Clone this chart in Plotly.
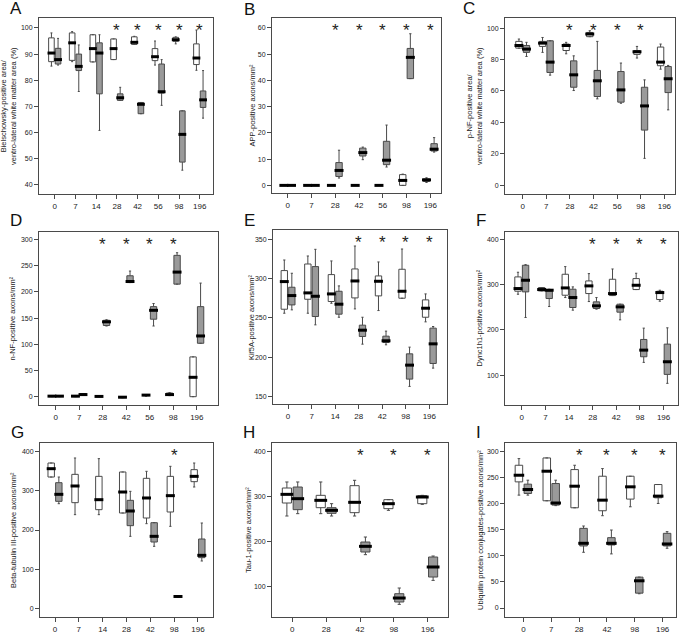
import plotly.graph_objects as go

W, H = 683, 637

# ---------------- data (lower whisker, Q1, median, Q3, upper whisker) ----------------
A_days = ["0", "7", "14", "28", "42", "56", "98", "196"]
A_ctrl = [(85.4, 87.1, 90.4, 96.2, 98.1), (87.1, 87.6, 94.3, 98.1, 98.6), (87.0, 87.0, 92.1, 97.4, 97.4),
          (87.9, 87.9, 92.1, 95.8, 95.8), (93.7, 93.7, 94.5, 96.6, 96.8), (85.8, 87.5, 89.0, 92.1, 95.0),
          (93.9, 94.9, 95.5, 96.4, 96.6), (83.8, 86.0, 88.5, 93.9, 99.2)]
A_trt = [(85.8, 86.2, 87.9, 92.2, 96.0), (75.7, 83.7, 85.3, 90.0, 93.5), (60.8, 74.8, 90.4, 94.3, 97.4),
         (72.3, 72.3, 73.3, 74.8, 77.3), (67.2, 67.2, 70.8, 71.5, 71.5), (70.4, 75.1, 75.6, 86.2, 87.9),
         (45.6, 48.7, 59.3, 68.3, 68.3), (65.5, 69.6, 72.5, 75.9, 83.7)]
A_star = ["28", "42", "56", "98", "196"]

B_days = ["0", "7", "28", "42", "56", "98", "196"]
B_ctrl = [(0, 0, 0, 0, 0), (0, 0, 0, 0, 0), (0, 0, 0, 0, 0), (0, 0, 0, 0, 0), (0, 0, 0, 0, 0),
          (0, 0, 1.9, 4.1, 4.3), (1.1, 1.5, 2.1, 2.5, 2.9)]
B_trt = [(0, 0, 0, 0, 0), (0, 0, 0, 0, 0), (2.8, 3.4, 5.7, 8.7, 13.4), (9.8, 11.2, 12.5, 14.2, 14.6),
         (7.0, 7.9, 9.6, 16.8, 23.0), (40.7, 40.7, 48.8, 52.2, 57.8), (12.7, 13.1, 13.8, 15.9, 18.2)]
B_star = ["28", "42", "56", "98", "196"]

C_days = ["0", "7", "28", "42", "56", "98", "196"]
C_ctrl = [(87.2, 87.2, 88.9, 91.5, 93.0), (84.5, 88.3, 90.4, 91.5, 94.0), (83.6, 85.7, 88.9, 89.8, 90.9),
          (94.5, 94.5, 96.2, 97.2, 98.3), None, (80.9, 83.2, 84.9, 85.7, 88.3), (73.8, 76.0, 78.3, 87.9, 89.8)]
C_trt = [(81.9, 84.5, 86.6, 88.9, 90.9), (70.0, 71.7, 78.3, 91.9, 91.9), (60.2, 62.3, 70.2, 79.1, 82.3),
         (54.9, 56.4, 66.4, 73.0, 91.5), (52.1, 52.8, 60.6, 72.3, 77.7), (17.0, 35.0, 50.4, 62.3, 67.0),
         (47.9, 58.9, 67.7, 75.5, 76.2)]
C_star = ["28", "42", "56", "98"]

D_days = ["0", "7", "28", "42", "56", "98", "196"]
D_ctrl = [(0, 0, 1, 2, 2), (0, 0, 1, 2, 2), (0, 0, 0.5, 1, 1), (-2, -2, -1, 0, 0), (1, 2, 3, 4, 4),
          (2, 3, 4, 7, 8), (0, 0, 37, 76, 76)]
D_trt = [(0, 0, 1, 2, 2), (3, 3, 4, 6, 6), (135, 136, 143, 146, 147), (218, 218, 220, 231, 240),
         (135, 148, 165, 172, 178), (215, 215, 238, 270, 275), (102, 102, 116, 172, 217)]
D_star = ["28", "42", "56", "98"]

E_days = ["0", "7", "14", "28", "42", "98", "196"]
E_ctrl = [(255.9, 261.0, 296.2, 310.2, 323.7), (255.9, 273.7, 281.8, 318.6, 328.8), (268.6, 270.8, 280.5, 305.1, 322.5),
          (261.4, 275.4, 297.0, 312.3, 341.5), (259.3, 278.0, 296.6, 303.4, 321.2), (275.0, 275.0, 283.9, 311.9, 337.7),
          (244.9, 250.8, 262.3, 272.9, 280.5)]
E_trt = [(260.2, 266.5, 278.4, 289.0, 306.8), (241.1, 251.7, 277.5, 315.3, 337.3), (250.8, 254.7, 267.4, 283.9, 290.7),
         (216.5, 226.3, 234.3, 240.7, 250.8), (215.7, 218.6, 220.8, 226.7, 233.1), (162.7, 172.0, 189.8, 204.2, 212.7),
         (186.0, 191.9, 216.9, 236.9, 239.0)]
E_star = ["28", "42", "98", "196"]

F_days = ["0", "7", "14", "28", "42", "98", "196"]
F_ctrl = [(279.1, 285.8, 291.7, 317.5, 327.8), (286.5, 286.5, 289.5, 293.9, 293.9), (271.8, 276.9, 293.1, 323.4, 340.3),
          (262.9, 280.6, 297.6, 308.6, 324.8), (276.2, 276.2, 280.6, 312.3, 335.1), (289.5, 289.5, 299.0, 313.8, 325.6),
          (263.7, 267.4, 282.8, 285.8, 288.0)]
F_trt = [(227.6, 284.3, 310.1, 343.3, 344.7), (251.9, 269.6, 288.0, 288.0, 290.2), (243.8, 249.7, 271.8, 290.2, 295.4),
         (246.0, 247.5, 253.4, 262.2, 271.8), (222.4, 239.4, 251.1, 257.0, 257.0), (128.1, 140.6, 155.3, 178.9, 204.0),
         (81.7, 101.5, 129.5, 168.6, 204.7)]
F_star = ["28", "42", "98", "196"]

G_days = ["0", "7", "14", "28", "42", "98", "196"]
G_ctrl = [(334.7, 334.7, 355.9, 370.3, 370.3), (239.0, 269.5, 311.9, 341.5, 383.1), (239.0, 251.7, 277.1, 336.4, 381.4),
          (243.2, 243.2, 296.6, 347.5, 347.5), (216.1, 230.5, 281.4, 331.4, 349.2), (209.3, 245.8, 287.3, 336.4, 361.9),
          (309.3, 322.9, 336.4, 353.4, 370.3)]
G_trt = [(266.9, 272.9, 290.7, 320.3, 334.7), None, None, (183.9, 211.0, 248.3, 275.4, 298.3),
         (158.5, 169.5, 183.9, 218.6, 218.6), (29, 30, 31, 32, 33), (121.2, 129.7, 135.6, 177.1, 217.8)]
G_star = ["98"]

H_days = ["0", "28", "42", "98", "196"]
H_ctrl = [(256.3, 285.2, 304.4, 318.5, 331.9), (261.5, 274.8, 291.1, 302.2, 331.9), (256.3, 263.7, 286.7, 323.7, 335.6),
          (268.9, 272.6, 283.7, 292.6, 292.6), (282.2, 283.7, 298.5, 301.5, 302.2)]
H_trt = [(261.5, 270.4, 294.8, 320.7, 331.9), (256.3, 262.2, 268.9, 274.8, 283.7), (170.4, 176.3, 188.9, 198.5, 209.6),
         (60.0, 65.2, 74.1, 83.7, 96.3), (113.3, 120.7, 143.0, 165.2, 167.4)]
H_star = ["42", "98", "196"]

I_days = ["0", "7", "28", "42", "98", "196"]
I_ctrl = [(216.1, 241.5, 254.2, 273.3, 286.0), (205.3, 205.3, 261.9, 287.3, 287.3), (191.9, 191.9, 233.2, 265.0, 273.3),
          (176.7, 186.2, 206.5, 252.3, 266.9), (193.8, 208.5, 232.0, 252.3, 252.3), (200.2, 211.0, 214.2, 236.4, 236.4)]
I_trt = [(216.1, 219.3, 226.9, 237.1, 244.7), (196.0, 197.0, 201.0, 238.3, 244.7), (106.7, 118.8, 123.9, 152.5, 157.0),
         (103.6, 120.7, 123.9, 134.7, 149.3), (27.3, 28.5, 52.1, 59.1, 59.1), (114.4, 118.8, 122.6, 143.0, 146.2)]
I_star = ["28", "42", "98", "196"]

Y_TITLES = {
    "A": "Bielschowsky-positive area/<br>ventro-lateral white matter area (%)",
    "B": "APP-positive axons/mm²",
    "C": "p-NF-positive area/<br>ventro-lateral white matter area (%)",
    "D": "n-NF-positive axons/mm²",
    "E": "Kif5A-positive axons/mm²",
    "F": "Dync1h1-positive axons/mm²",
    "G": "Beta-tubulin III-positive axons/mm²",
    "H": "Tau-1-positive axons/mm²",
    "I": "Ubiquitin protein conjugates-positive axons/mm²",
}

# ---------------- layout geometry (pixels) ----------------
PANELS = [
    ("A", A_days, A_ctrl, A_trt, A_star, (39, 213, 18, 194), (-0.76, 7.64), (36.5, 103.8), 10, 9, 16, 9),
    ("B", B_days, B_ctrl, B_trt, B_star, (272, 441, 18, 193), (-0.66, 6.45), (-2.9, 63.8), 10, 252, 249, 10),
    ("C", C_days, C_ctrl, C_trt, C_star, (505, 675, 18, 194), (-0.75, 6.45), (-5.7, 106.4), 20, 475, 469, 9),
    ("D", D_days, D_ctrl, D_trt, D_star, (39, 218, 232, 405), (-0.71, 6.9), (-15.9, 314.6), 50, 12, 16, 220),
    ("E", E_days, E_ctrl, E_trt, E_star, (273, 447, 230, 404), (-0.64, 6.75), (140.3, 361.9), 50, 251, 249, 220),
    ("F", F_days, F_ctrl, F_trt, F_star, (505, 678, 232, 405), (-0.71, 6.61), (33.7, 417.0), 100, 479, 481, 220),
    ("G", G_days, G_ctrl, G_trt, G_star, (40, 213, 443, 617), (-0.63, 6.63), (-21.2, 421.2), 100, 13, 17, 432),
    ("H", H_days, H_ctrl, H_trt, H_star, (272, 448, 443, 617), (-0.6, 4.6), (31.9, 418.5), 100, 248, 249, 432),
    ("I", I_days, I_ctrl, I_trt, I_star, (505, 676, 443, 617), (-0.66, 5.48), (-17.2, 315.9), 50, 480, 478, 432),
]

OFF = 0.16
BW = 0.27
FONT = "Liberation Sans, Arial, sans-serif"
LINE = "#4a4a4a"

fig = go.Figure()
annotations = []

for k, (letter, days, ctrl, trt, stars, frame, xr, yr, dt, tx, lx, ly) in enumerate(PANELS):
    n = k + 1
    xa = "x" if n == 1 else f"x{n}"
    ya = "y" if n == 1 else f"y{n}"
    x0, x1, ytop, ybot = frame
    ppu = (x1 - x0) / (xr[1] - xr[0])
    for series, shift, fill in ((ctrl, -OFF, "white"), (trt, OFF, "#9a9a9a")):
        pos = [i + shift for i, s in enumerate(series) if s is not None]
        vals = [s for s in series if s is not None]
        fig.add_trace(go.Box(
            x=pos,
            lowerfence=[v[0] for v in vals], q1=[v[1] for v in vals], median=[v[2] for v in vals],
            q3=[v[3] for v in vals], upperfence=[v[4] for v in vals],
            width=BW, whiskerwidth=0.35, fillcolor=fill,
            line=dict(color=LINE, width=1), boxpoints=False,
            xaxis=xa, yaxis=ya, showlegend=False, hoverinfo="skip",
        ))
        fig.add_trace(go.Scatter(
            x=pos, y=[v[2] for v in vals], mode="markers",
            marker=dict(symbol="line-ew", size=BW * ppu, line=dict(color="black", width=3)),
            xaxis=xa, yaxis=ya, showlegend=False, hoverinfo="skip",
        ))
    axx = dict(
        domain=[x0 / W, x1 / W], range=list(xr), anchor=ya,
        tickmode="array", tickvals=list(range(len(days))), ticktext=days,
        showline=True, mirror=True, linecolor=LINE, linewidth=1,
        ticks="outside", ticklen=4, tickcolor=LINE, showgrid=False, zeroline=False,
        tickfont=dict(size=8, color="#222", family=FONT), automargin=False,
    )
    axy = dict(
        domain=[1 - ybot / H, 1 - ytop / H], range=list(yr), anchor=xa, dtick=dt,
        showline=True, mirror=True, linecolor=LINE, linewidth=1,
        ticks="outside", ticklen=4, tickcolor=LINE, showgrid=False, zeroline=False,
        tickfont=dict(size=7, color="#222", family=FONT), automargin=False,
    )
    fig.update_layout({("xaxis" if n == 1 else f"xaxis{n}"): axx, ("yaxis" if n == 1 else f"yaxis{n}"): axy})

    annotations.append(dict(
        x=tx / W, y=1 - (ytop + ybot) / 2 / H, xref="paper", yref="paper",
        text=Y_TITLES[letter], textangle=-90, showarrow=False,
        font=dict(size=7.5, color="#222", family=FONT), xanchor="center", yanchor="middle",
    ))
    annotations.append(dict(
        x=lx / W, y=1 - ly / H, xref="paper", yref="paper", text=letter, showarrow=False,
        font=dict(size=17, color="#111", family=FONT), xanchor="center", yanchor="middle",
    ))
    for d in stars:
        annotations.append(dict(
            x=days.index(d), y=0.93, xref=xa, yref=f"{ya} domain", text="*", showarrow=False,
            font=dict(size=17, color="#222", family=FONT), xanchor="center", yanchor="middle",
        ))

fig.update_layout(
    width=W, height=H, margin=dict(l=0, r=0, t=0, b=0),
    paper_bgcolor="white", plot_bgcolor="white",
    annotations=annotations, boxmode="overlay", hovermode=False,
)

fig.write_html(
    "out.html",
    config={"displayModeBar": False, "staticPlot": True},
    post_script="document.body.style.margin='0px';document.body.style.overflow='hidden';",
)
